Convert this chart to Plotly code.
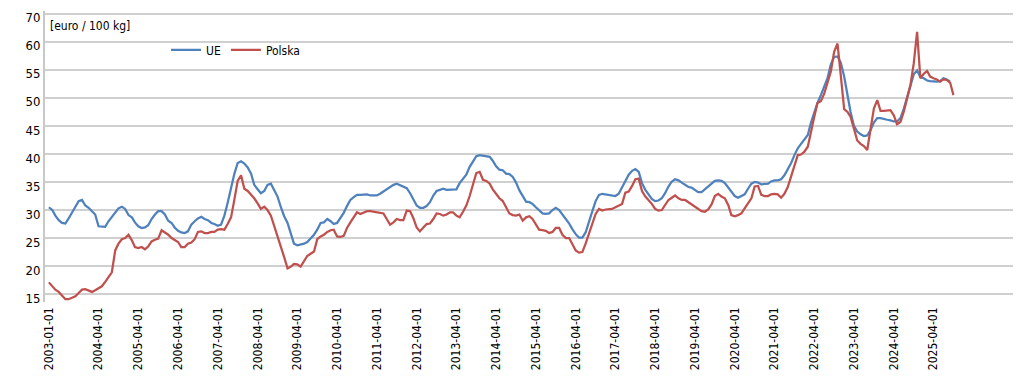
import plotly.graph_objects as go
import pandas as pd

dates = pd.date_range("2003-01-01", periods=274, freq="MS").strftime("%Y-%m-%d").tolist()

ue = [
    30.5, 30.0, 29.0, 28.2, 27.7, 27.6, 28.5, 29.6, 30.8, 31.6, 31.8, 30.8,  # 2003
    30.4, 29.8, 29.2, 27.1, 27.0, 27.0, 28.0, 28.8, 29.7, 30.3, 30.6, 30.2,  # 2004
    29.1, 28.7, 27.8, 27.1, 26.8, 26.9, 27.3, 28.4, 29.2, 29.8, 29.8, 29.2,  # 2005
    28.1, 27.7, 26.9, 26.3, 26.0, 25.9, 26.2, 27.4, 28.0, 28.5, 28.8, 28.4,  # 2006
    28.2, 27.7, 27.5, 27.2, 27.4, 29.0, 31.3, 34.2, 36.5, 38.4, 38.7, 38.3,  # 2007
    37.6, 36.5, 34.5, 33.7, 33.0, 33.4, 34.5, 34.7, 33.6, 32.4, 30.5, 28.9,  # 2008
    27.7, 25.8, 24.0, 23.7, 23.8, 24.0, 24.3, 24.9, 25.6, 26.5, 27.7, 27.8,  # 2009
    28.4, 28.0, 27.5, 27.7, 28.6, 29.5, 30.7, 31.8, 32.3, 32.7, 32.7, 32.7,  # 2010
    32.8, 32.6, 32.6, 32.6, 32.9, 33.3, 33.8, 34.2, 34.5, 34.7, 34.4, 34.1,  # 2011
    33.9, 33.0, 31.8, 30.8, 30.4, 30.4, 30.7, 31.4, 32.6, 33.4, 33.6, 33.8,  # 2012
    33.6, 33.6, 33.6, 33.7, 34.8, 35.6, 36.3, 37.7, 38.8, 39.6, 39.8, 39.7,  # 2013
    39.6, 39.5, 38.8, 37.8, 37.2, 37.1, 36.5, 36.4, 35.9, 34.9, 33.5, 32.4,  # 2014
    31.5, 31.4, 31.1, 30.5, 29.9, 29.4, 29.3, 29.4, 30.0, 30.4, 30.0, 29.2,  # 2015
    28.3, 27.6, 26.6, 25.7, 25.1, 25.1, 26.0, 27.7, 29.8, 31.6, 32.7, 32.9,  # 2016
    32.8, 32.7, 32.6, 32.5, 32.9, 34.0, 35.0, 36.3, 37.0, 37.3, 36.8, 34.8,  # 2017
    33.6, 32.8, 32.0, 31.6, 31.7, 32.1, 33.0, 34.2, 35.1, 35.5, 35.3, 34.9,  # 2018
    34.5, 34.1, 34.0, 33.6, 33.2, 33.2, 33.7, 34.2, 34.8, 35.2, 35.3, 35.2,  # 2019
    34.8, 34.0, 33.1, 32.5, 32.2, 32.5, 32.8, 33.8, 34.7, 35.0, 34.9, 34.6,  # 2020
    34.6, 34.7, 35.1, 35.3, 35.3, 35.5, 36.2, 37.2, 38.4, 39.8, 41.0, 41.8,  # 2021
    42.5, 43.4, 45.5, 47.5, 49.1, 50.5, 52.0, 53.5, 56.0, 57.3, 57.4, 56.3,  # 2022
    53.8, 50.5, 47.5, 45.0, 44.0, 43.5, 43.2, 43.3, 44.3, 45.6, 46.4, 46.4,  # 2023
    46.2, 46.1, 46.0, 45.8, 45.8, 46.4, 48.0, 50.0, 52.4, 54.2, 54.9, 53.7,  # 2024
    53.5, 53.1, 53.0, 52.9, 52.9, 53.0, 53.5, 53.3, 52.9, None,              # 2025
]

polska = [
    17.1, 16.4, 15.8, 15.4, 14.8, 14.1, 14.1, 14.4, 14.6, 15.2, 15.8, 15.9,  # 2003
    15.6, 15.4, 15.7, 16.0, 16.4, 17.2, 18.0, 18.9, 22.8, 24.0, 24.8, 25.0,  # 2004
    25.6, 24.6, 23.4, 23.2, 23.4, 23.0, 23.5, 24.4, 24.7, 24.9, 26.4, 26.0,  # 2005
    25.6, 25.0, 24.6, 24.3, 23.4, 23.4, 24.0, 24.2, 24.8, 26.1, 26.2, 25.9,  # 2006
    25.9, 26.1, 26.1, 26.5, 26.6, 26.5, 27.5, 28.7, 31.9, 35.2, 36.2, 33.8,  # 2007
    33.4, 32.8, 32.1, 31.2, 30.2, 30.6, 30.0, 29.0, 27.2, 25.5, 23.4, 21.6,  # 2008
    19.6, 19.9, 20.4, 20.3, 19.9, 20.9, 21.8, 22.2, 22.6, 24.8, 25.3, 25.6,  # 2009
    26.1, 26.4, 26.5, 25.3, 25.2, 25.4, 26.8, 27.8, 28.7, 29.6, 29.3, 29.6,  # 2010
    29.8, 29.8, 29.7, 29.7, 29.6, 29.4, 28.4, 27.4, 27.8, 28.4, 28.2, 28.2,  # 2011
    29.9, 29.8, 28.6, 26.9, 26.2, 26.8, 27.5, 27.6, 28.4, 29.4, 29.3, 29.0,  # 2012
    29.2, 29.6, 29.6, 29.0, 28.7, 29.7, 30.8, 32.5, 34.6, 36.6, 36.8, 35.4,  # 2013
    35.2, 34.7, 33.7, 32.8, 32.1, 31.6, 30.5, 29.4, 29.1, 29.0, 29.2, 28.1,  # 2014
    28.7, 28.9, 28.4, 27.4, 26.5, 26.4, 26.3, 25.9, 26.1, 26.8, 26.8, 25.6,  # 2015
    25.0, 25.0, 24.0, 22.8, 22.4, 22.5, 24.0, 25.8, 27.5, 29.3, 30.2, 29.9,  # 2016
    30.1, 30.1, 30.2, 30.5, 30.8, 31.1, 33.1, 33.3, 34.3, 35.5, 35.6, 33.4,  # 2017
    32.4, 31.8, 31.1, 30.2, 29.9, 30.0, 30.8, 31.8, 32.2, 32.6, 32.1, 31.8,  # 2018
    31.8, 31.4, 31.0, 30.6, 30.2, 29.8, 29.7, 30.1, 31.0, 32.5, 32.9, 32.4,  # 2019
    32.1, 30.9, 29.1, 28.9, 29.1, 29.4, 30.3, 31.2, 32.1, 34.2, 34.3, 32.7,  # 2020
    32.5, 32.5, 32.8, 32.9, 32.8, 32.2, 32.9, 34.1, 35.9, 38.0, 39.8, 39.9,  # 2021
    40.4, 41.3, 44.0, 46.6, 49.1, 49.4, 50.7, 52.6, 54.7, 58.2, 59.7, 54.0,  # 2022
    48.0, 47.5, 46.6, 44.5, 42.4, 41.8, 41.4, 40.7, 44.2, 48.1, 49.6, 47.7,  # 2023
    47.7, 47.8, 47.8, 46.9, 45.3, 45.7, 47.5, 49.9, 52.3, 56.1, 61.8, 53.5,  # 2024
    54.3, 54.8, 53.8, 53.5, 53.3, 52.9, 53.3, 53.2, 52.7, 50.5,              # 2025
]

tick_dates = ["2003-01-01"] + [f"{y}-04-01" for y in range(2004, 2026)]
y_ticks = [15, 20, 25, 30, 35, 40, 45, 50, 55, 60, 65]
y_tick_text = ["15", "20", "25", "30", "35", "40", "45", "50", "55", "60", "70"]

FONT = "DejaVu Sans Condensed, Liberation Sans Narrow, sans-serif"

fig = go.Figure()
fig.add_trace(go.Scatter(x=dates, y=ue, mode="lines", name="UE",
                         line=dict(color="#4F81BD", width=2.25)))
fig.add_trace(go.Scatter(x=dates, y=polska, mode="lines", name="Polska",
                         line=dict(color="#C0504D", width=2.25)))

# page is drawn with an 8px body margin, so the figure is sized/offset accordingly
fig.update_layout(
    width=1016, height=378,
    margin=dict(l=37, r=11, t=3, b=84, autoexpand=False),
    paper_bgcolor="white", plot_bgcolor="white",
    font=dict(family=FONT, size=12, color="#000000"),
    showlegend=True,
    legend=dict(orientation="h", x=0.125, y=0.866, xanchor="left", yanchor="middle",
                bgcolor="rgba(0,0,0,0)", font=dict(size=12), itemwidth=30,
                tracegroupgap=0),
    xaxis=dict(
        type="date",
        range=["2002-11-26", "2027-04-01"],
        tickvals=tick_dates, ticktext=tick_dates,
        tickangle=-90, showgrid=False, zeroline=False,
        showline=False, ticks="", ticklabelstandoff=2,
        tickfont=dict(size=12), automargin=False,
    ),
    yaxis=dict(
        range=[13.6, 65.5], tickvals=y_ticks, ticktext=y_tick_text,
        showgrid=True, gridcolor="#D0D0D0", gridwidth=2,
        zeroline=False, showline=True, linecolor="#C8C8C8", linewidth=2,
        ticks="", tickfont=dict(size=13), ticklabeloverflow="allow",
        ticklabelshift=4, automargin=False,
    ),
    annotations=[dict(text="[euro / 100 kg]", xref="paper", yref="paper",
                      x=0.003, y=0.95, xanchor="left", yanchor="middle",
                      showarrow=False, font=dict(size=12))],
)

fig.write_html("out.html")
